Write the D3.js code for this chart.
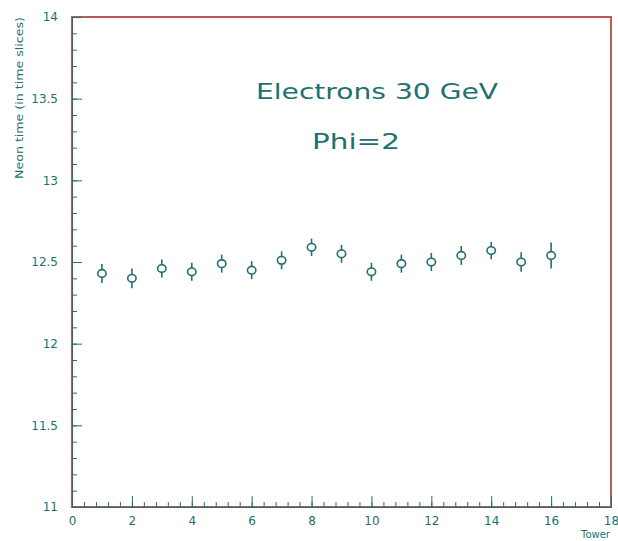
<!DOCTYPE html>
<html>
<head>
<meta charset="utf-8">
<script src="https://cdn.jsdelivr.net/npm/d3@7"></script>
<style>
  body { margin: 0; background: #fff; }
  svg { display: block; }
  .axis text { font-family: "DejaVu Sans", sans-serif; fill: #22706e; }
  .axis path, .axis line { stroke: #22706e; }
</style>
</head>
<body>
<svg id="chart" width="618" height="541"></svg>
<script>
// data
const towers = [1, 2, 3, 4, 5, 6, 7, 8, 9, 10, 11, 12, 13, 14, 15, 16];
const meanTime = [12.43, 12.40, 12.46, 12.44, 12.49, 12.45, 12.51, 12.59, 12.55, 12.44, 12.49, 12.50, 12.54, 12.57, 12.50, 12.54];
const timeErr = [0.058, 0.06, 0.055, 0.055, 0.055, 0.055, 0.055, 0.053, 0.055, 0.055, 0.055, 0.055, 0.058, 0.053, 0.06, 0.08];
const xTicks = [0, 2, 4, 6, 8, 10, 12, 14, 16, 18];
const yTicks = [11, 11.5, 12, 12.5, 13, 13.5, 14];

const teal = "#22706e";
const red = "#e0554f";

let margin = {left: 72, right: 7, top: 17, bottom: 34};
let width = 618, height = 541;

let svg = d3.select("#chart");

let xScale = d3.scaleLinear().domain([0, 18]).range([margin.left, width - margin.right]);
let yScale = d3.scaleLinear().domain([11, 14]).range([height - margin.bottom, margin.top]);

// frame: top and right edges read as red
svg.append("rect")
    .attr("x", xScale(0)).attr("y", yScale(14))
    .attr("width", xScale(18) - xScale(0)).attr("height", yScale(11) - yScale(14))
    .attr("fill", "none").attr("stroke", red).attr("stroke-width", 2);
svg.append("rect")
    .attr("x", xScale(0)).attr("y", yScale(14))
    .attr("width", xScale(18) - xScale(0)).attr("height", yScale(11) - yScale(14))
    .attr("fill", "none").attr("stroke", teal).attr("stroke-width", 0.6).attr("opacity", 0.6);

// minor ticks
svg.append("g").attr("class", "axis")
    .attr("transform", "translate(0," + yScale(11) + ")")
    .call(d3.axisBottom(xScale).tickValues(d3.range(0, 18.01, 0.4)).tickSize(-5).tickFormat(""))
    .call(g => g.select(".domain").remove());
svg.append("g").attr("class", "axis")
    .attr("transform", "translate(" + xScale(0) + ",0)")
    .call(d3.axisLeft(yScale).tickValues(d3.range(11, 14.001, 0.1)).tickSize(-5).tickFormat(""))
    .call(g => g.select(".domain").remove());

// major ticks and labels
let xAxisG = svg.append("g").attr("class", "axis")
    .attr("transform", "translate(0," + yScale(11) + ")")
    .call(d3.axisBottom(xScale).tickValues(xTicks).tickSize(-11).tickPadding(9).tickSizeOuter(0));
xAxisG.selectAll("text").style("font-size", "12px");

let yAxisG = svg.append("g").attr("class", "axis")
    .attr("transform", "translate(" + xScale(0) + ",0)")
    .call(d3.axisLeft(yScale).tickValues(yTicks).tickSize(-10).tickPadding(14).tickSizeOuter(0)
        .tickFormat(d => String(d)));
yAxisG.selectAll("text").style("font-size", "12px");

// axis titles
svg.append("text")
    .attr("x", 610).attr("y", 538)
    .attr("text-anchor", "end")
    .style("font-family", "DejaVu Sans, sans-serif")
    .style("font-size", "10px")
    .attr("fill", teal)
    .text("Tower");

svg.append("text")
    .attr("transform", "translate(23,98) rotate(-90)")
    .attr("text-anchor", "middle")
    .style("font-family", "DejaVu Sans, sans-serif")
    .style("font-size", "10px")
    .attr("fill", teal)
    .attr("textLength", 162)
    .attr("lengthAdjust", "spacingAndGlyphs")
    .text("Neon time (in time slices)");

// labels inside the plot
svg.append("text")
    .attr("x", 256).attr("y", 99)
    .style("font-family", "DejaVu Sans, sans-serif")
    .style("font-size", "22px")
    .attr("fill", teal)
    .attr("textLength", 242)
    .attr("lengthAdjust", "spacingAndGlyphs")
    .text("Electrons 30 GeV");

svg.append("text")
    .attr("x", 312).attr("y", 149)
    .style("font-family", "DejaVu Sans, sans-serif")
    .style("font-size", "22px")
    .attr("fill", teal)
    .attr("textLength", 88)
    .attr("lengthAdjust", "spacingAndGlyphs")
    .text("Phi=2");

// points with error bars
let points = towers.map((t, i) => ({t: t, v: meanTime[i], e: timeErr[i]}));

svg.selectAll(".errBar").data(points).enter().append("line")
    .attr("class", "errBar")
    .attr("x1", d => xScale(d.t)).attr("x2", d => xScale(d.t))
    .attr("y1", d => yScale(d.v - d.e)).attr("y2", d => yScale(d.v + d.e))
    .attr("stroke", teal).attr("stroke-width", 1.6);

svg.selectAll(".pt").data(points).enter().append("ellipse")
    .attr("class", "pt")
    .attr("cx", d => xScale(d.t)).attr("cy", d => yScale(d.v))
    .attr("rx", 4.2).attr("ry", 3.8)
    .attr("fill", "#fff")
    .attr("stroke", teal).attr("stroke-width", 1.6);
</script>
</body>
</html>
